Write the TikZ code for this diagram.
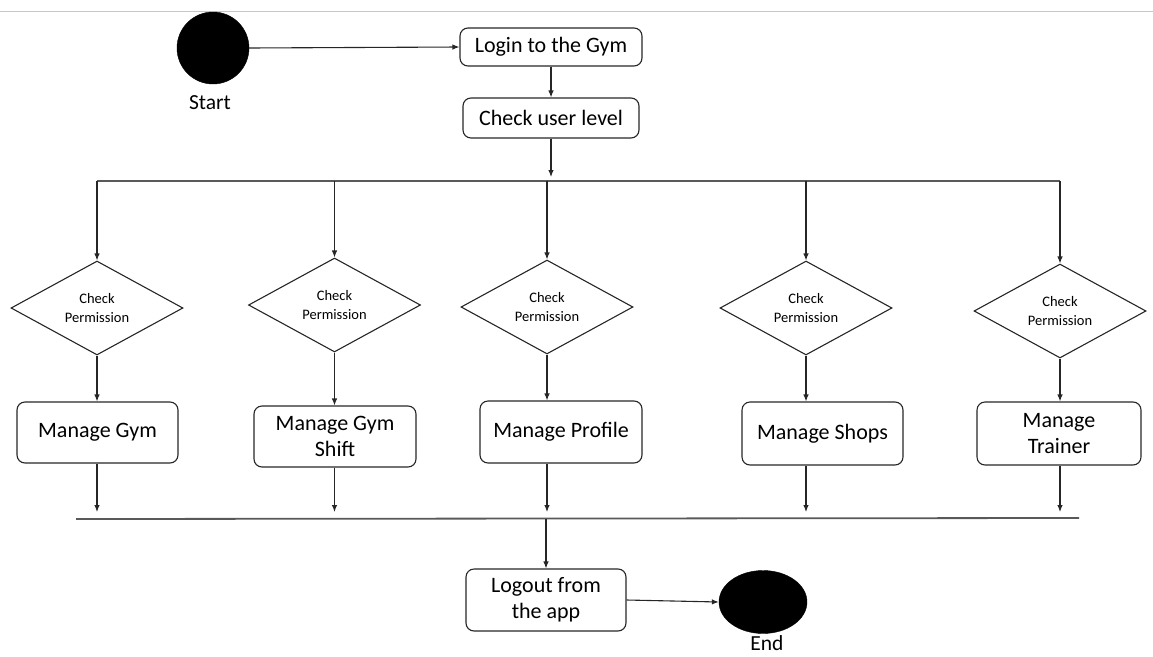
\documentclass[tikz,border=0pt]{standalone}
\usepackage{fontspec}
\setmainfont{Carlito}
\usetikzlibrary{arrows.meta,shapes.geometric}

\tikzset{
  flow/.style={draw=black!85, line width=1.1pt},
  arr/.style={flow, -{Latex[length=7pt,width=5.5pt]}},
  bar/.style={draw=black!65, line width=1.8pt},
  act/.style={draw=black!85, line width=1.1pt, rounded corners=8pt, align=center,
    inner sep=2pt, font=\fontsize{22}{26}\selectfont},
  check/.style={diamond, draw=black!85, line width=1.1pt, inner sep=0pt, align=center,
    minimum width=172pt, minimum height=89pt, font=\fontsize{14.5}{19.5}\selectfont},
  term/.style={fill=black, draw=black, inner sep=0pt},
  lbl/.style={font=\fontsize{21.5}{26}\selectfont, inner sep=1pt}
}

\begin{document}
\begin{tikzpicture}[x=1pt, y=-1pt]
  \useasboundingbox (0,0) rectangle (1153,656);
  \draw[black!22, line width=1pt] (0,11) -- (1153,11);

  % start, login, user level
  \node[term, circle, minimum size=72pt] (start) at (213,48) {};
  \node[lbl] (startlbl) at (210,103) {Start};
  \node[act, minimum width=182pt, minimum height=38pt] (login) at (551,47) {Login to the Gym};
  \node[act, minimum width=176pt, minimum height=40pt] (level) at (551,118) {Check user level};

  \coordinate (split) at (551,177);
  \coordinate (topbar) at (0,181);
  \coordinate (lowtip) at (0,512);
  \coordinate (barL) at (76,519);
  \coordinate (barR) at (1079,518);

  % permission checks
  \node[check] (d1) at (97,308)   {Check\\Permission};
  \node[check] (d2) at (334.5,305) {Check\\Permission};
  \node[check] (d3) at (547,307)  {Check\\Permission};
  \node[check] (d4) at (806,308)  {Check\\Permission};
  \node[check] (d5) at (1060,311) {Check\\Permission};

  % management activities
  \node[act, minimum width=161pt, minimum height=61pt] (b1) at (97.5,432.5) {Manage Gym};
  \node[act, minimum width=162pt, minimum height=61pt] (b2) at (335,436.5) {Manage Gym\\Shift};
  \node[act, minimum width=162pt, minimum height=62pt] (b3) at (561,432) {Manage Profile};
  \node[act, minimum width=161pt, minimum height=63pt] (b4) at (822.5,433.5) {Manage Shops};
  \node[act, minimum width=164pt, minimum height=63pt] (b5) at (1059,433.5) {Manage\\Trainer};

  % logout and end
  \node[act, minimum width=160pt, minimum height=62pt] (logout) at (546,600) {Logout from\\the app};
  \node[term, ellipse, minimum width=88pt, minimum height=63pt] (end) at (763,602) {};
  \node[lbl] (endlbl) at (767,643) {End};

  % connectors
  \draw[arr] (start.east) -- (login.west);
  \draw[arr] (login.south) -- (level.north);
  \draw[arr] (level.south) -- (split);
  \draw[bar] (d1.north |- topbar) -- (d5.north |- topbar);
  \foreach \i in {1,...,5} {
    \draw[arr] (d\i.north |- topbar) -- (d\i.north);
    \draw[arr] (d\i.south) -- (d\i.south |- b\i.north);
    \draw[arr] (d\i.south |- b\i.south) -- (d\i.south |- lowtip);
  }
  \draw[bar] (barL) -- (barR);
  \draw[arr] (logout.north |- barL) -- (logout.north);
  \draw[arr] (logout.east) -- (end.west);
\end{tikzpicture}
\end{document}
